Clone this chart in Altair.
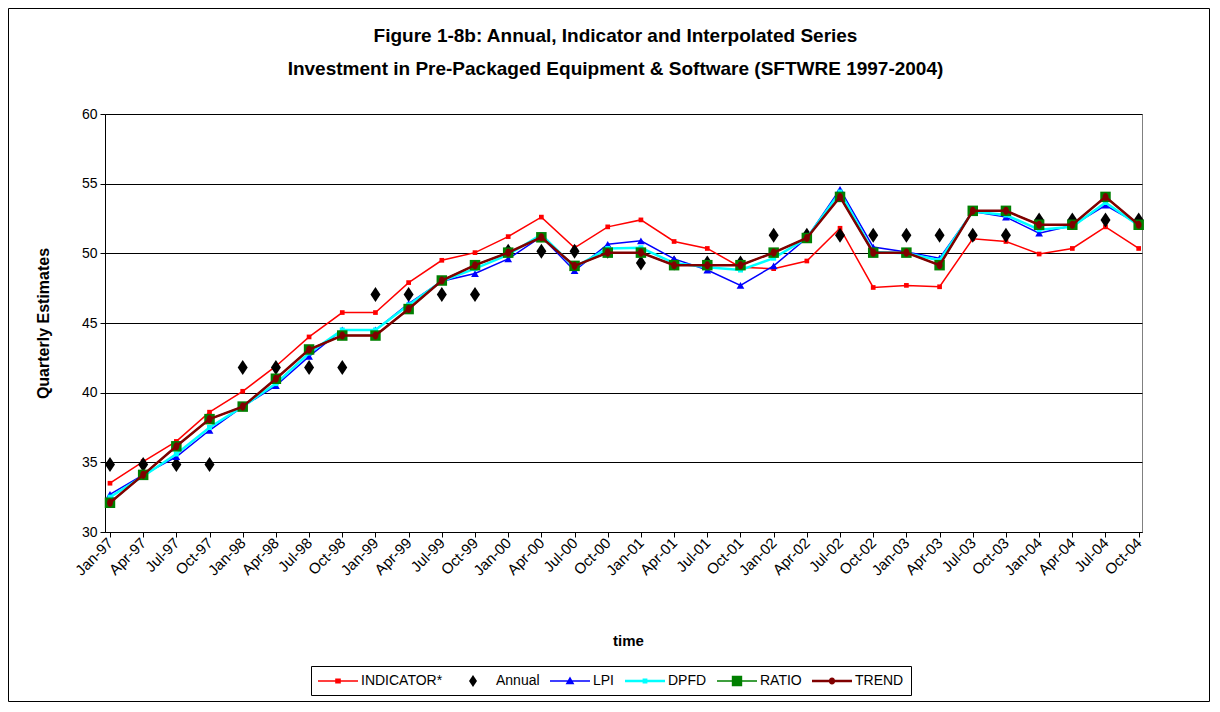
import altair as alt
import pandas as pd

# ---------------- data ----------------
quarters = ["Jan-97", "Apr-97", "Jul-97", "Oct-97", "Jan-98", "Apr-98", "Jul-98", "Oct-98",
            "Jan-99", "Apr-99", "Jul-99", "Oct-99", "Jan-00", "Apr-00", "Jul-00", "Oct-00",
            "Jan-01", "Apr-01", "Jul-01", "Oct-01", "Jan-02", "Apr-02", "Jul-02", "Oct-02",
            "Jan-03", "Apr-03", "Jul-03", "Oct-03", "Jan-04", "Apr-04", "Jul-04", "Oct-04"]

indicator = [33.5, 35.05, 36.5, 38.6, 40.1, 41.9, 44.0, 45.75, 45.75, 47.9, 49.5, 50.05,
             51.2, 52.6, 50.4, 51.9, 52.4, 50.85, 50.35, 49.0, 48.9, 49.45, 51.8, 47.55,
             47.7, 47.6, 51.05, 50.85, 49.95, 50.35, 51.9, 50.35]

annual = [34.85, 34.85, 34.85, 34.85, 41.8, 41.8, 41.8, 41.8, 47.05, 47.05, 47.05, 47.05,
          50.15, 50.15, 50.15, 50.15, 49.3, 49.3, 49.3, 49.3, 51.3, 51.3, 51.3, 51.3,
          51.3, 51.3, 51.3, 51.3, 52.4, 52.4, 52.4, 52.4]

lpi = [32.7, 34.1, 35.4, 37.3, 39.0, 40.5, 42.6, 44.5, 44.5, 46.4, 48.0, 48.55,
       49.6, 51.2, 48.75, 50.65, 50.9, 49.6, 48.8, 47.7, 49.1, 51.1, 54.6, 50.45,
       50.1, 49.65, 53.0, 52.6, 51.45, 52.0, 53.45, 52.1]

dpfd = [32.5, 34.0, 35.6, 37.5, 39.0, 40.65, 42.85, 44.5, 44.5, 46.3, 48.0, 48.9,
        49.9, 51.35, 49.0, 50.35, 50.4, 49.3, 49.0, 48.8, 49.65, 51.1, 54.4, 50.1,
        50.0, 49.5, 53.0, 52.75, 51.7, 51.9, 53.65, 52.0]

ratio = [32.1, 34.1, 36.15, 38.1, 39.0, 41.0, 43.1, 44.1, 44.1, 46.0, 48.05, 49.15,
         50.05, 51.15, 49.1, 50.05, 50.05, 49.15, 49.15, 49.15, 50.05, 51.1, 54.05, 50.05,
         50.05, 49.15, 53.05, 53.05, 52.05, 52.05, 54.05, 52.05]

trend = [32.1, 34.1, 36.15, 38.1, 39.0, 41.0, 43.1, 44.1, 44.1, 46.0, 48.05, 49.15,
         50.05, 51.15, 49.1, 50.05, 50.05, 49.15, 49.15, 49.15, 50.05, 51.1, 54.05, 50.05,
         50.05, 49.15, 53.05, 53.05, 52.05, 52.05, 54.05, 52.05]

series_names = ["INDICATOR*", "Annual", "LPI", "DPFD", "RATIO", "TREND"]
series_values = [indicator, annual, lpi, dpfd, ratio, trend]
y_ticks = [30, 35, 40, 45, 50, 55, 60]

title_lines = ["Figure 1-8b: Annual, Indicator and Interpolated Series",
               "Investment in Pre-Packaged Equipment & Software (SFTWRE 1997-2004)"]

# ---------------- tables ----------------
rows = []
for name, vals in zip(series_names, series_values):
    for i, v in enumerate(vals):
        rows.append({"idx": i, "quarter": quarters[i], "series": name, "value": v})
df = pd.DataFrame(rows)

FONT = "Liberation Sans"
W, H = 1037, 418
PAD = {"left": 97, "top": 106, "right": 68, "bottom": 170}

labels_js = "[" + ",".join("'%s'" % q for q in quarters) + "]"

x_enc = alt.X("idx:Q",
              scale=alt.Scale(domain=[-0.15, 31.1], nice=False, zero=False),
              axis=alt.Axis(values=list(range(len(quarters))),
                            labelExpr=labels_js + "[round(datum.value)]",
                            labelAngle=-45, labelAlign="right", labelBaseline="middle",
                            labelFontSize=15, labelFont=FONT, labelColor="black",
                            labelPadding=3, labelOverlap=False, labelFlush=False,
                            tickSize=5, tickColor="black", domainColor="black",
                            grid=False, title="time", titleFont=FONT, titleFontSize=15,
                            titleFontWeight="bold", titleColor="black",
                            titleX=523, titleY=108, titleBaseline="middle",
                            titleAlign="center"))
y_enc = alt.Y("value:Q",
              scale=alt.Scale(domain=[30, 60], nice=False, zero=False),
              axis=alt.Axis(values=y_ticks, grid=True, gridColor="black", gridWidth=1,
                            gridOpacity=1, labelFontSize=14, labelFont=FONT,
                            labelColor="black", labelPadding=3, tickSize=5,
                            tickColor="black", domainColor="black",
                            title="Quarterly Estimates", titleFont=FONT, titleFontSize=16,
                            titleFontWeight="bold", titleColor="black", titleAngle=270,
                            titleX=-62, titleY=209, titleAlign="center",
                            titleBaseline="middle"))

base = alt.Chart(df)


def sel(name):
    return base.transform_filter(alt.datum.series == name)


diamond = "M0,-1.5L1,0L0,1.5L-1,0Z"
ellipse = "M0,-1.15A0.85,1.15 0 1,1 0,1.15A0.85,1.15 0 1,1 0,-1.15Z"

layers = []
# frame around the whole chart
layers.append(
    alt.Chart(pd.DataFrame({"a": [0]})).mark_rect(
        fill="white", fillOpacity=0, stroke="black", strokeWidth=1
    ).encode(x=alt.value(-PAD["left"] + 0.5), x2=alt.value(W + PAD["right"] - 0.5),
             y=alt.value(-PAD["top"] + 0.5), y2=alt.value(H + PAD["bottom"] - 0.5))
)

# INDICATOR*
layers.append(sel("INDICATOR*").mark_line(color="#FF0000", strokeWidth=1.5).encode(x=x_enc, y=y_enc))
layers.append(sel("INDICATOR*").mark_point(shape="square", size=22, filled=True, opacity=1,
                                            color="#FF0000").encode(x=x_enc, y=y_enc))
# Annual
layers.append(sel("Annual").mark_point(shape=diamond, size=100, filled=True, opacity=1,
                                        color="black").encode(x=x_enc, y=y_enc))
# LPI
layers.append(sel("LPI").mark_line(color="#0000FF", strokeWidth=1.5).encode(x=x_enc, y=y_enc))
layers.append(sel("LPI").mark_point(shape="triangle-up", size=60, filled=True, opacity=1,
                                     color="#0000FF").encode(x=x_enc, y=y_enc))
# DPFD
layers.append(sel("DPFD").mark_line(color="#00FFFF", strokeWidth=2.5).encode(x=x_enc, y=y_enc))
layers.append(sel("DPFD").mark_point(shape="square", size=25, filled=True, opacity=1,
                                      color="#00FFFF").encode(x=x_enc, y=y_enc))
# RATIO
layers.append(sel("RATIO").mark_line(color="#008000", strokeWidth=1.5).encode(x=x_enc, y=y_enc))
layers.append(sel("RATIO").mark_point(shape="square", size=110, filled=True, opacity=1,
                                       color="#008000").encode(x=x_enc, y=y_enc))
# TREND
layers.append(sel("TREND").mark_line(color="#800000", strokeWidth=2.5).encode(x=x_enc, y=y_enc))
layers.append(sel("TREND").mark_point(shape=ellipse, size=49, filled=True, opacity=1,
                                       color="#800000").encode(x=x_enc, y=y_enc))

# legend-only layer (points placed outside the domain and clipped away)
line_thin = "M-2.5,-0.1H2.5V0.1H-2.5Z"
line_thick = "M-2.5,-0.15H2.5V0.15H-2.5Z"
legend_shapes = [
    line_thin + " M-0.35,-0.3H0.35V0.3H-0.35Z",
    "M0,-0.75L0.5,0L0,0.75L-0.5,0Z",
    line_thin + " M0,-0.55L0.55,0.4H-0.55Z",
    line_thick + " M-0.3,-0.3H0.3V0.3H-0.3Z",
    line_thin + " M-0.65,-0.65H0.65V0.65H-0.65Z",
    line_thick + " M0,-0.45A0.4,0.45 0 1,1 0,0.45A0.4,0.45 0 1,1 0,-0.45Z",
]
legend_colors = ["#FF0000", "black", "#0000FF", "#00FFFF", "#008000", "#800000"]
leg_df = pd.DataFrame({"series": series_names, "idx": [-5] * 6, "value": [45] * 6})

legend_def = alt.Legend(orient="none", legendX=206, legendY=552, direction="horizontal",
                        columns=6, title=None, strokeColor="black", fillColor="white",
                        padding=7, symbolSize=256, symbolOffset=12, labelOffset=15,
                        symbolStrokeWidth=0, columnPadding=10, labelFontSize=14,
                        labelFont=FONT, labelColor="black", labelLimit=300)
layers.append(
    alt.Chart(leg_df).mark_point(filled=True, opacity=1, clip=True).encode(
        x=x_enc, y=y_enc,
        color=alt.Color("series:N", scale=alt.Scale(domain=series_names, range=legend_colors),
                        legend=legend_def),
        shape=alt.Shape("series:N", scale=alt.Scale(domain=series_names, range=legend_shapes),
                        legend=legend_def),
    )
)

chart = alt.layer(*layers).properties(
    width=W, height=H, padding=PAD,
    autosize=alt.AutoSizeParams(type="none"),
    background="white",
    title=alt.TitleParams(text=title_lines, font=FONT, fontSize=19, fontWeight="bold",
                          color="black", anchor="middle", offset=30, lineHeight=33,
                          dx=-8, dy=101),
).configure_view(stroke="#808080", strokeWidth=1)

chart.save("out.html", embed_options={"renderer": "svg", "actions": False})
